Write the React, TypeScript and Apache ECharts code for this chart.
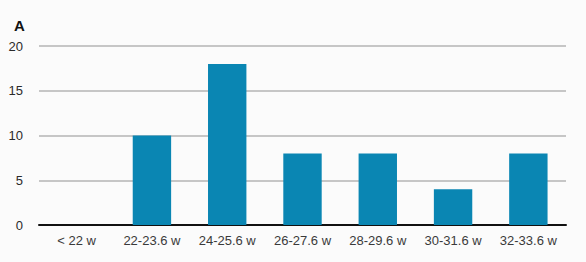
import React, { useEffect, useRef } from "react";
import * as echarts from "echarts";

const categories = ["< 22 w", "22-23.6 w", "24-25.6 w", "26-27.6 w", "28-29.6 w", "30-31.6 w", "32-33.6 w"];
const values = [0, 10, 18, 8, 8, 4, 8];
const yTicks = [0, 5, 10, 15, 20];

export default function App() {
  const ref = useRef<HTMLDivElement>(null);
  useEffect(() => {
    if (!ref.current) return;
    const chart = echarts.init(ref.current, null, { renderer: "svg" });
    chart.setOption({
      animation: false,
      backgroundColor: "#fbfbfb",
      title: {
        text: "A",
        left: 9,
        top: 13,
        textStyle: { fontFamily: "Liberation Sans, Arial, sans-serif", fontSize: 15, fontWeight: "bold", color: "#111" },
      },
      grid: { left: 39, right: 20, top: 46, bottom: 37, containLabel: false },
      xAxis: {
        type: "category",
        data: categories,
        axisLine: { lineStyle: { color: "#111", width: 2 } },
        axisTick: { show: false },
        axisLabel: { color: "#3a3a3a", fontSize: 13, margin: 9, fontFamily: "Liberation Sans, Arial, sans-serif" },
      },
      yAxis: {
        type: "value",
        min: yTicks[0],
        max: yTicks[yTicks.length - 1],
        interval: 5,
        axisLine: { show: false },
        axisTick: { show: false },
        splitLine: { lineStyle: { color: "#b4b4b4", width: 1.5 } },
        axisLabel: { color: "#2a2a2a", fontSize: 13, margin: 16, fontFamily: "Liberation Sans, Arial, sans-serif" },
      },
      series: [
        {
          type: "bar",
          data: values,
          barWidth: "51%",
          itemStyle: { color: "#0a86b3" },
        },
      ],
    });
    return () => chart.dispose();
  }, []);
  return <div ref={ref} style={{ position: "fixed", left: 0, top: 0, width: 586, height: 262 }} />;
}
